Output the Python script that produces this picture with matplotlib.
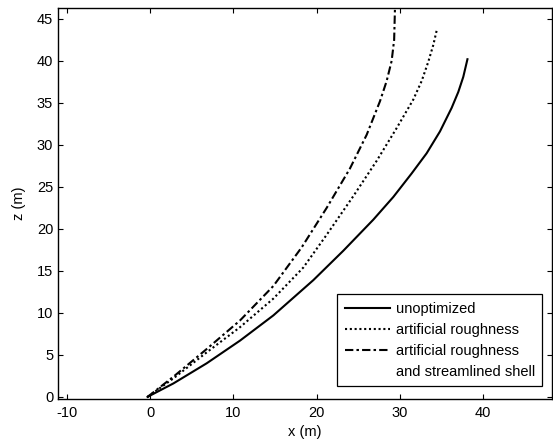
import matplotlib.pyplot as plt
from matplotlib.lines import Line2D

plt.rcParams['font.family'] = ['Liberation Sans', 'DejaVu Sans']
plt.rcParams['axes.unicode_minus'] = False

# trajectories (x, z in metres)
x_unopt = [-0.3, 2.8, 6.8, 10.8, 14.8, 19.6, 23.2, 26.8, 29.2, 31.4, 33.2, 34.8, 36.2, 37.0, 37.6, 38.1]
z_unopt = [0.0, 1.6, 4.0, 6.7, 9.7, 13.9, 17.4, 21.1, 23.8, 26.6, 29.0, 31.6, 34.4, 36.3, 38.1, 40.2]

x_rough = [-0.3, 2.8, 6.8, 10.8, 14.8, 18.4, 21.2, 24.4, 27.2, 29.6, 31.6, 32.6, 33.4, 34.0, 34.4]
z_rough = [0.0, 2.2, 5.3, 8.3, 11.7, 15.4, 19.3, 23.9, 28.1, 32.0, 35.4, 37.6, 39.9, 41.9, 43.6]

x_shell = [-0.3, 2.8, 6.8, 10.8, 14.8, 18.2, 21.2, 24.0, 26.0, 27.6, 28.4, 29.0, 29.3, 29.4, 29.45]
z_shell = [0.0, 2.4, 5.7, 9.1, 13.2, 17.8, 22.5, 27.2, 31.2, 35.2, 37.6, 40.0, 42.5, 46.3, 48.0]

x_ticks = [-10, 0, 10, 20, 30, 40]
z_ticks = [0, 5, 10, 15, 20, 25, 30, 35, 40, 45]

fig = plt.figure(figsize=(5.53, 4.44), dpi=100)
ax = fig.add_axes([0.1049, 0.1014, 0.8933, 0.8806])

ax.plot(x_unopt, z_unopt, color='black', lw=1.5, linestyle='-', label='unoptimized')
ax.plot(x_rough, z_rough, color='black', lw=1.5, linestyle=(0, (1, 1.3)), label='artificial roughness')
ax.plot(x_shell, z_shell, color='black', lw=1.5, linestyle=(0, (4, 1.5, 1.2, 1.5)),
        label='artificial roughness')
# second line of the last legend entry, no handle
ax.add_line(Line2D([], [], color='none', label='and streamlined shell'))

ax.set_xlim(-11.05, 48.25)
ax.set_ylim(-0.25, 46.3)
ax.set_xticks(x_ticks)
ax.set_yticks(z_ticks)
ax.tick_params(direction='in', length=3.5, width=0.8, top=True, right=True,
               labelsize=10.5)
ax.tick_params(axis='x', pad=5)
for s in ax.spines.values():
    s.set_linewidth(1.0)

ax.set_xlabel('x (m)', fontsize=10.5, labelpad=4)
ax.set_ylabel('z (m)', fontsize=10.5, labelpad=8)

leg = ax.legend(loc='lower right', bbox_to_anchor=(0.98, 0.033), fontsize=10.5, frameon=True,
                fancybox=False, edgecolor='black', framealpha=1, handlelength=3.1,
                handletextpad=0.4, labelspacing=0.48, borderpad=0.5, borderaxespad=0)
leg.get_frame().set_linewidth(0.9)

fig.savefig('out.png', dpi=100)
